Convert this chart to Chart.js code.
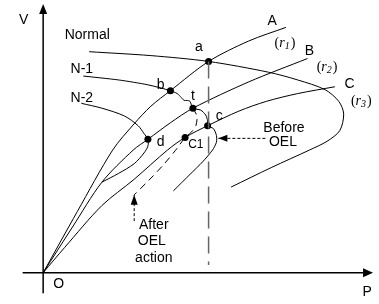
<!DOCTYPE html>
<html>
<head>
<meta charset="utf-8">
<script src="https://cdn.jsdelivr.net/npm/chart.js@4/dist/chart.umd.min.js"></script>
<style>
  html, body { margin: 0; padding: 0; background: #fff; }
  #wrap { width: 379px; height: 304px; }
</style>
</head>
<body>
<div id="wrap"><canvas id="pv" width="379" height="304"></canvas></div>
<script>
// P-V sketch, values are [P, V] (arbitrary units)

// system PV curves
const normalPV = [[47,227],[110,223],[169,217],[230,206],[260,198],[288,188],[302,176],[307,163],[303,146],[290,135],[272,126],[233,108],[192,88]];
const n1PV = [[41,202],[77,198],[107,193],[130,187],[137,184],[141,180],[144,177],[147,177],[150,176],[153,169],[161,167],[166,162],[168,156],[168,151],[174,148],[177,141],[177,134],[173,126],[163,114],[150,101],[133,84]];
const n2PV = [[39,174],[60,169],[83,161],[97,151],[103,143],[107,137],[107,130],[103,123],[93,112],[77,102],[60,93]];
// PV curve after OEL action (dashed)
const oelPV = [[153,169],[157,161],[156,151],[151,144],[145,139],[137,128],[123,111],[108,95],[93,80]];

// load characteristics r1, r2, r3
const loadA = [[0,0],[35,63],[71,126],[93,153],[110,171],[130,187],[169,217],[210,238],[248,252]];
const loadB = [[0,0],[30,47],[60,93],[92,126],[107,137],[130,154],[153,169],[210,196],[270,220]];
const loadC = [[0,0],[22,26],[60,69],[93,96],[127,126],[145,139],[168,151],[200,166],[228,176],[260,184],[298,191]];

// operating points
const opNames = ['a', 'b', 't', 'c', 'C1', 'd'];
const opPV = [[169,217],[130,187],[153,169],[168,151],[145,139],[107,137]];

// vertical guide from a
const guidePV = [[169,217],[169,8]];

// axes
const yAxisPV = [[0,-21],[0,266]];
const xAxisPV = [[-21,0],[327,0]];

// text labels [text, P, V]
const labelsLeft = [['Normal',22,244.5],['N-1',28,209],['N-2',28,179]];
const labelsMid = [['V',-20,259.5],['a',159,232],['b',120,193],['t',153,181],['c',180,161],['d',120,134],
  ['A',234,258],['B',272,228],['C',313,194],['Before',246,149],['OEL',245,134],
  ['After',113,49],['OEL',111,32],['action',113,15],['O',16,-12],['P',331,-20]];
const rLabels = [['1',247,237],['2',290,212],['3',325,177]];

// annotation arrows: shaft start, arrow tip
const arrowBefore = [[227,138],[179,138]];
const arrowAfter = [[93,53],[93,80]];

const xy = arr => arr.map(([x, y]) => ({ x, y }));

function curve(data, opts) {
  return Object.assign({
    data: xy(data), showLine: true, borderColor: '#000', borderWidth: 1,
    pointRadius: 0, tension: 0.3, fill: false, clip: false
  }, opts || {});
}

const sans = '"Liberation Sans", Arial, Helvetica, sans-serif';
const serif = '"Liberation Serif", "Times New Roman", serif';

// arrow heads and texts are drawn on top, placed through the chart's scales
const sketchPlugin = {
  id: 'sketch',
  afterDatasetsDraw(chart) {
    const ctx = chart.ctx;
    const sx = chart.scales.x, sy = chart.scales.y;
    const px = v => sx.getPixelForValue(v), py = v => sy.getPixelForValue(v);

    function head(tip, from, len, hw) {
      const tx = px(tip[0]), ty = py(tip[1]);
      const fx = px(from[0]), fy = py(from[1]);
      const d = Math.hypot(tx - fx, ty - fy);
      const ux = (tx - fx) / d, uy = (ty - fy) / d;
      const bx = tx - ux * len, by = ty - uy * len;
      ctx.beginPath();
      ctx.moveTo(tx, ty);
      ctx.lineTo(bx - uy * hw, by + ux * hw);
      ctx.lineTo(bx + uy * hw, by - ux * hw);
      ctx.closePath();
      ctx.fill();
    }

    ctx.save();
    ctx.fillStyle = '#000';
    head([0, 276], yAxisPV[0], 10, 4);
    head([337, 0], xAxisPV[0], 10, 4.5);
    head(arrowBefore[1], arrowBefore[0], 9, 3.5);
    head(arrowAfter[1], arrowAfter[0], 10, 3.5);

    ctx.textBaseline = 'middle';
    ctx.font = '14px ' + sans;
    ctx.textAlign = 'left';
    labelsLeft.forEach(([t, p, v]) => ctx.fillText(t, px(p), py(v)));
    ctx.textAlign = 'center';
    labelsMid.forEach(([t, p, v]) => ctx.fillText(t, px(p), py(v)));
    ctx.font = '12px ' + sans;
    ctx.fillText(opNames[4], px(156), py(132));

    // (r1), (r2), (r3)
    ctx.textAlign = 'left';
    ctx.textBaseline = 'alphabetic';
    rLabels.forEach(([s, p, v]) => {
      const cx = px(p), base = py(v) + 5;
      ctx.font = '14px ' + serif;
      const wp = ctx.measureText('(').width;
      ctx.font = 'italic 14px ' + serif;
      const wr = ctx.measureText('r').width;
      ctx.font = 'italic 10px ' + serif;
      const ws = ctx.measureText(s).width;
      let x = cx - (2 * wp + wr + ws + 1) / 2;
      ctx.font = '14px ' + serif;
      ctx.fillText('(', x, base); x += wp;
      ctx.font = 'italic 14px ' + serif;
      ctx.fillText('r', x, base); x += wr;
      ctx.font = 'italic 10px ' + serif;
      ctx.fillText(s, x, base + 2); x += ws + 1;
      ctx.font = '14px ' + serif;
      ctx.fillText(')', x, base);
    });
    ctx.restore();
  }
};

new Chart(document.getElementById('pv'), {
  type: 'scatter',
  data: {
    datasets: [
      curve(yAxisPV, { borderWidth: 1.5, tension: 0 }),
      curve(xAxisPV, { borderWidth: 1.5, tension: 0 }),
      curve(guidePV, { borderColor: '#666', borderWidth: 1.5, borderDash: [17, 8], tension: 0 }),
      curve(normalPV),
      curve(n1PV, { tension: 0.25 }),
      curve(n2PV),
      curve(oelPV, { borderDash: [7, 5] }),
      curve(loadA),
      curve(loadB),
      curve(loadC),
      curve(arrowBefore, { borderDash: [3, 2], tension: 0 }),
      curve(arrowAfter, { borderDash: [3, 2], tension: 0 }),
      { data: xy(opPV), showLine: false, pointRadius: 3.5, pointBackgroundColor: '#000',
        pointBorderColor: '#000', pointBorderWidth: 0, clip: false }
    ]
  },
  options: {
    responsive: false,
    animation: false,
    layout: { padding: 0 },
    plugins: { legend: { display: false }, tooltip: { enabled: false } },
    scales: {
      x: { type: 'linear', min: -40, max: 339, display: false },
      y: { type: 'linear', min: -28, max: 276, display: false }
    }
  },
  plugins: [sketchPlugin]
});
</script>
</body>
</html>
